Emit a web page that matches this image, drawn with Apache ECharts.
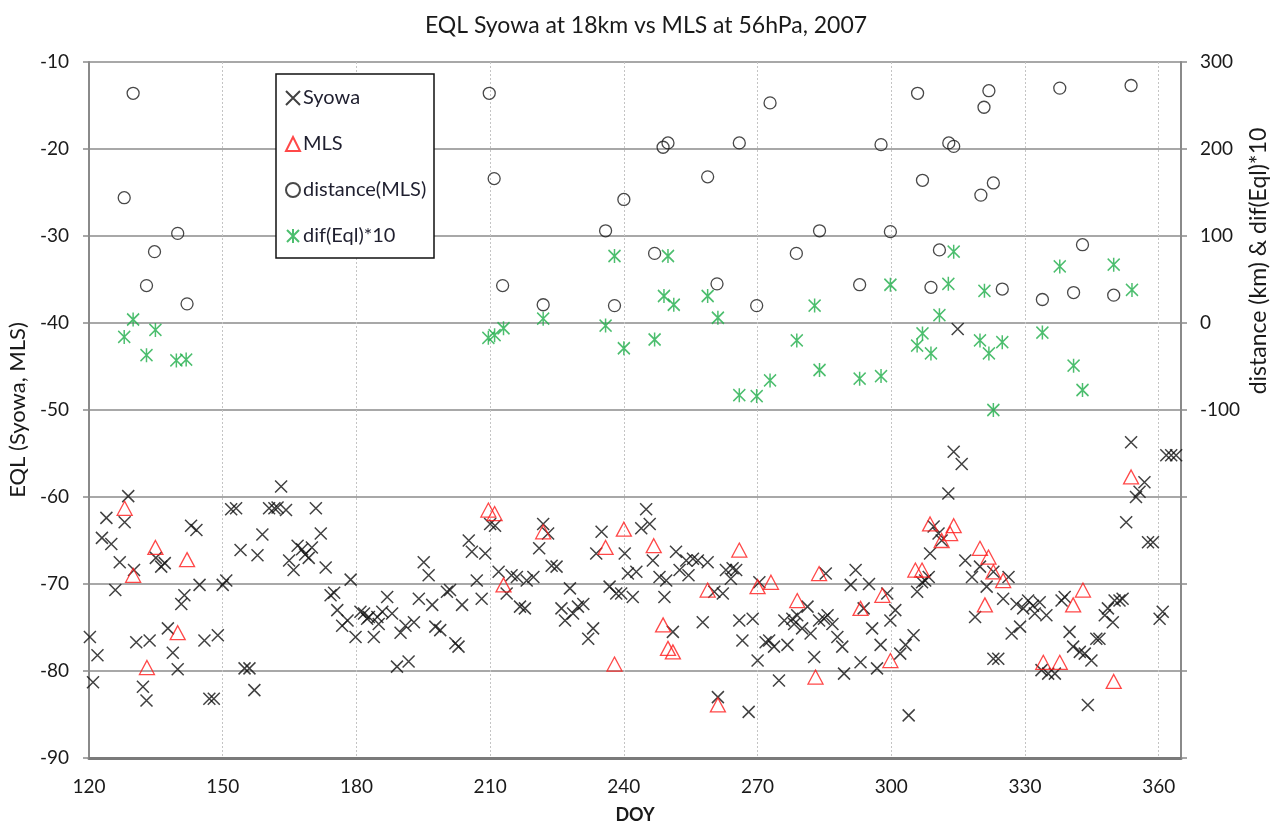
<!DOCTYPE html>
<html>
<head>
<meta charset="utf-8">
<script src="https://cdn.jsdelivr.net/npm/echarts@6/dist/echarts.min.js"></script>
<style>
html,body{margin:0;padding:0;background:#fff;}
#chart{width:1273px;height:825px;}
</style>
</head>
<body>
<div id="chart"></div>
<script>
// ---------- DATA ----------
const syowaDoy = [120.2,120.9,121.9,122.9,123.9,125.0,125.9,126.9,128.0,128.8,130.1,130.6,132.1,132.9,133.6,135.0,136.2,137.0,137.7,138.8,139.9,140.7,141.4,142.9,144.1,144.8,145.9,147.0,148.0,148.9,150.0,150.8,151.9,153.0,154.0,154.9,156.0,157.1,157.8,158.9,160.4,161.6,162.3,163.1,164.2,164.9,165.9,166.8,167.8,168.5,169.3,170.0,170.9,172.0,173.1,174.2,175.0,175.7,176.8,178.0,178.7,179.8,180.9,181.7,182.4,182.8,183.9,184.7,185.0,185.8,186.9,188.0,189.1,189.9,191.0,191.7,192.9,194.0,195.1,196.2,197.0,197.7,198.8,200.3,201.0,202.2,202.9,203.7,205.2,205.9,207.0,208.1,208.9,210.0,211.1,211.9,213.7,214.8,216.0,216.7,217.8,218.2,219.7,221.0,221.9,223.0,223.8,224.9,226.0,226.8,227.9,228.6,229.7,230.9,232.0,233.1,233.8,235.0,236.8,238.3,239.4,240.2,240.9,242.0,242.8,243.9,245.0,245.8,246.5,248.0,249.1,249.5,251.0,251.7,252.5,254.0,254.5,255.5,256.6,257.7,258.8,260.3,261.1,262.2,262.9,264.0,264.4,265.2,265.9,266.6,268.0,268.9,270.0,270.4,271.8,272.6,273.7,274.8,276.0,276.7,277.8,278.2,278.9,280.0,281.2,281.9,282.7,283.8,284.9,285.3,285.7,286.8,287.9,289.0,289.4,290.9,292.0,293.1,293.8,295.0,295.7,296.8,297.6,299.1,299.8,300.9,302.0,303.2,303.9,305.0,305.8,306.9,307.6,308.4,308.7,309.5,310.6,311.3,312.8,314.0,314.9,315.8,316.6,318.1,318.8,319.9,321.4,322.9,322.9,324.0,325.1,326.3,327.0,328.1,328.9,329.6,330.7,331.8,332.2,333.3,333.7,334.8,335.2,336.7,338.2,338.9,340.0,340.8,342.3,343.4,344.1,344.9,346.0,346.7,347.9,348.6,349.7,350.1,351.2,351.9,352.7,353.8,354.9,355.7,356.8,357.6,358.7,360.2,360.9,361.7,362.8,363.9];
const syowaEql = [-76.1,-81.3,-78.2,-64.7,-62.4,-65.4,-70.7,-67.5,-62.9,-59.9,-68.4,-76.7,-81.8,-83.4,-76.5,-67.0,-68.0,-67.6,-75.1,-77.9,-79.8,-72.3,-71.3,-63.3,-63.8,-70.1,-76.5,-83.2,-83.2,-75.9,-70.1,-69.6,-61.4,-61.3,-66.1,-79.7,-79.7,-82.2,-66.7,-64.3,-61.3,-61.3,-61.2,-58.8,-61.5,-67.3,-68.4,-65.6,-66.0,-66.6,-67.0,-65.8,-61.3,-64.2,-68.1,-71.3,-71.0,-73.0,-74.8,-74.2,-69.5,-76.1,-73.2,-73.4,-74.0,-73.8,-76.1,-73.8,-74.6,-73.2,-71.5,-73.4,-79.5,-75.6,-74.8,-78.9,-74.4,-71.7,-67.5,-69.0,-72.4,-74.9,-75.3,-70.9,-70.7,-76.8,-77.2,-72.4,-65.0,-66.3,-69.6,-71.7,-66.5,-63.1,-63.3,-68.6,-71.1,-69.0,-69.2,-72.6,-72.8,-69.6,-69.2,-65.9,-63.1,-64.2,-67.9,-68.0,-72.8,-74.2,-70.5,-73.4,-72.6,-72.3,-76.3,-75.1,-66.5,-64.0,-70.3,-71.1,-71.1,-66.5,-68.8,-71.5,-68.6,-63.6,-61.4,-63.1,-67.3,-69.2,-71.5,-69.6,-75.5,-66.3,-68.4,-67.3,-69.0,-67.1,-67.3,-74.4,-67.5,-70.9,-83.0,-71.1,-68.4,-69.4,-68.2,-68.4,-74.2,-76.5,-84.7,-74.0,-78.8,-69.8,-76.7,-76.5,-77.2,-81.1,-74.2,-77.0,-74.0,-74.6,-73.6,-75.1,-72.6,-75.7,-78.4,-74.2,-74.0,-68.8,-73.6,-74.6,-76.1,-77.2,-80.3,-70.1,-68.4,-79.0,-72.8,-70.0,-75.1,-79.7,-77.0,-71.1,-74.2,-73.0,-78.0,-77.0,-85.1,-75.9,-70.9,-69.8,-69.6,-69.2,-66.5,-63.4,-64.2,-65.0,-59.6,-54.8,-40.7,-56.2,-67.3,-69.2,-73.8,-68.0,-70.3,-68.6,-78.6,-78.6,-71.7,-69.2,-75.7,-72.3,-74.9,-72.8,-71.9,-72.5,-73.4,-72.1,-79.9,-73.6,-80.3,-80.3,-71.9,-71.5,-75.5,-77.2,-77.8,-78.0,-83.9,-78.8,-76.3,-76.3,-73.6,-72.8,-74.4,-71.9,-71.9,-71.7,-62.9,-53.7,-60.0,-59.4,-58.3,-65.2,-65.2,-74.0,-73.2,-55.2,-55.2,-55.2];

const mlsDoy = [128.0,129.9,133.0,134.9,139.9,142.0,209.6,211.0,213.0,221.9,235.9,237.9,240.0,246.7,248.8,249.9,251.0,258.8,261.1,265.9,270.0,273.0,278.9,283.0,283.8,293.1,298.0,299.8,305.4,306.9,308.7,311.3,313.2,314.0,319.9,321.0,321.8,322.9,325.1,334.1,337.8,340.8,343.0,349.9,353.8];
const mlsEql = [-61.3,-69.0,-79.6,-65.8,-75.6,-67.2,-61.5,-61.9,-70.1,-64.0,-65.8,-79.2,-63.7,-65.6,-74.7,-77.4,-77.8,-70.7,-83.9,-66.1,-70.3,-69.8,-71.9,-80.7,-68.8,-72.8,-71.3,-78.8,-68.4,-68.4,-63.1,-65.0,-64.2,-63.3,-65.9,-72.4,-66.9,-68.6,-69.6,-79.0,-79.0,-72.4,-70.7,-81.2,-57.7];

const distDoy = [127.9,129.9,132.9,134.7,139.9,142.0,209.8,210.9,212.8,221.9,235.9,237.9,240.0,246.9,248.8,249.9,258.8,260.9,265.9,269.8,272.8,278.7,283.9,292.9,297.7,299.8,305.9,307.0,308.9,310.8,312.9,314.0,320.1,320.8,321.9,322.9,324.9,333.9,337.8,340.9,342.9,349.9,353.8];
const distKm = [144,264,43,82,103,22,264,166,43,21,106,20,142,80,202,207,168,45,207,20,253,80,106,44,205,105,264,164,41,84,207,203,147,248,267,161,39,27,270,35,90,32,273];

const difDoy = [127.9,129.9,132.9,134.9,139.6,141.8,209.6,211.0,213.0,221.9,235.9,237.9,240.0,246.9,249.0,249.9,251.2,258.8,261.1,265.9,269.8,272.8,278.8,282.8,283.9,292.9,297.7,299.8,305.8,307.0,308.9,310.8,312.8,314.0,319.9,320.9,321.9,322.9,324.9,333.9,337.8,340.9,342.9,349.9,354.0];
const difEql10 = [-16,4,-37,-8,-43,-42,-17,-14,-6,5,-3,77,-29,-19,31,77,21,31,6,-83,-84,-66,-20,20,-54,-64,-61,44,-26,-12,-35,9,45,82,-20,37,-35,-100,-22,-11,65,-49,-77,67,38];

const seriesNames = ['Syowa', 'MLS', 'distance(MLS)', 'dif(Eql)*10'];
const titleText = 'EQL Syowa at 18km vs MLS at 56hPa, 2007';
const leftAxisTitle = 'EQL (Syowa, MLS)';
const rightAxisTitle = 'distance (km) & dif(Eql)*10';
const xAxisTitle = 'DOY';

// ---------- CHART ----------
const pairs = (xs, ys) => xs.map((x, i) => [x, ys[i]]);
const FONT = 'Lato, "Liberation Sans", sans-serif';
const chart = echarts.init(document.getElementById('chart'), null, {renderer: 'canvas'});

chart.setOption({
  animation: false,
  backgroundColor: '#ffffff',
  textStyle: {fontFamily: FONT},
  title: {
    text: titleText,
    left: 641, top: 9, textAlign: 'center',
    textStyle: {fontFamily: FONT, fontSize: 23, fontWeight: 'normal', color: '#1a1a1a'}
  },
  grid: {left: 89, right: 92, top: 62, bottom: 67, containLabel: false, outerBoundsMode: 'none'},
  graphic: [
    {type: 'rect', z: 1, shape: {x: 276, y: 74, width: 158, height: 184},
     style: {fill: '#ffffff', stroke: '#111111', lineWidth: 1.5}},
    {type: 'text', z: 5, x: 1259, y: 261, rotation: Math.PI / 2,
     style: {text: rightAxisTitle, font: '23px ' + FONT, fill: '#1a1a1a', align: 'center', verticalAlign: 'middle'}}
  ],
  legend: {
    orient: 'vertical', left: 285, top: 88, padding: 0, z: 10,
    itemGap: 26, itemWidth: 14, itemHeight: 14,
    data: seriesNames,
    textStyle: {fontFamily: FONT, fontSize: 20, color: '#1f1f2f', padding: [0, 0, 0, -2]}
  },
  xAxis: {
    type: 'value', min: 120, max: 365, interval: 30,
    name: xAxisTitle, nameLocation: 'middle', nameGap: 48,
    nameTextStyle: {fontFamily: FONT, fontSize: 18, fontWeight: 'bold', color: '#1a1a1a'},
    axisLine: {show: true, onZero: false, lineStyle: {color: '#7a7a7a', width: 3}},
    axisTick: {show: false},
    axisLabel: {margin: 19, fontSize: 19, color: '#1a1a1a', fontFamily: FONT, showMaxLabel: false,
      formatter: v => (v > 360 ? '' : String(v))},
    splitLine: {show: true, lineStyle: {color: '#c4c4c4', width: 1, type: [2, 2]}}
  },
  yAxis: [
    {
      type: 'value', min: -90, max: -10, interval: 10, position: 'left',
      name: leftAxisTitle, nameLocation: 'middle', nameGap: 59,
      nameTextStyle: {fontFamily: FONT, fontSize: 22, color: '#1a1a1a'},
      axisLine: {show: true, onZero: false, lineStyle: {color: '#8a8a8a', width: 2}},
      axisTick: {show: true, length: 6, lineStyle: {color: '#8a8a8a', width: 1.5}},
      axisLabel: {margin: 20, fontSize: 19, color: '#1a1a1a', fontFamily: FONT},
      splitLine: {show: true, lineStyle: {color: '#a8a8a8', width: 2}}
    },
    {
      type: 'value', min: -500, max: 300, interval: 100, position: 'right',
      axisLine: {show: true, onZero: false, lineStyle: {color: '#8a8a8a', width: 2}},
      axisTick: {show: true, length: 6, lineStyle: {color: '#8a8a8a', width: 1.5}},
      axisLabel: {margin: 19, fontSize: 19, color: '#1a1a1a', fontFamily: FONT,
        formatter: v => (v < -100 ? '' : String(v))},
      splitLine: {show: false}
    }
  ],
  series: [
    {
      name: 'Syowa', type: 'scatter', yAxisIndex: 0, z: 2,
      symbol: 'path://M0,0L12,12M12,0L0,12', symbolSize: 12,
      itemStyle: {color: 'rgba(0,0,0,0)', borderColor: '#111111', borderWidth: 1.5},
      data: pairs(syowaDoy, syowaEql)
    },
    {
      name: 'MLS', type: 'scatter', yAxisIndex: 0, z: 3,
      symbol: 'triangle', symbolSize: [15, 14],
      itemStyle: {color: 'rgba(0,0,0,0)', borderColor: '#ff1a1a', borderWidth: 1.3},
      data: pairs(mlsDoy, mlsEql)
    },
    {
      name: 'distance(MLS)', type: 'scatter', yAxisIndex: 1, z: 3,
      symbol: 'circle', symbolSize: 12,
      itemStyle: {color: 'rgba(0,0,0,0)', borderColor: '#1a1a1a', borderWidth: 1.3},
      data: pairs(distDoy, distKm)
    },
    {
      name: 'dif(Eql)*10', type: 'scatter', yAxisIndex: 1, z: 3,
      symbol: 'path://M0,1L12,13M12,1L0,13M6,0L6,14', symbolSize: [12, 14],
      itemStyle: {color: 'rgba(0,0,0,0)', borderColor: '#1fae4a', borderWidth: 1.6},
      data: pairs(difDoy, difEql10)
    }
  ]
});
</script>
</body>
</html>
